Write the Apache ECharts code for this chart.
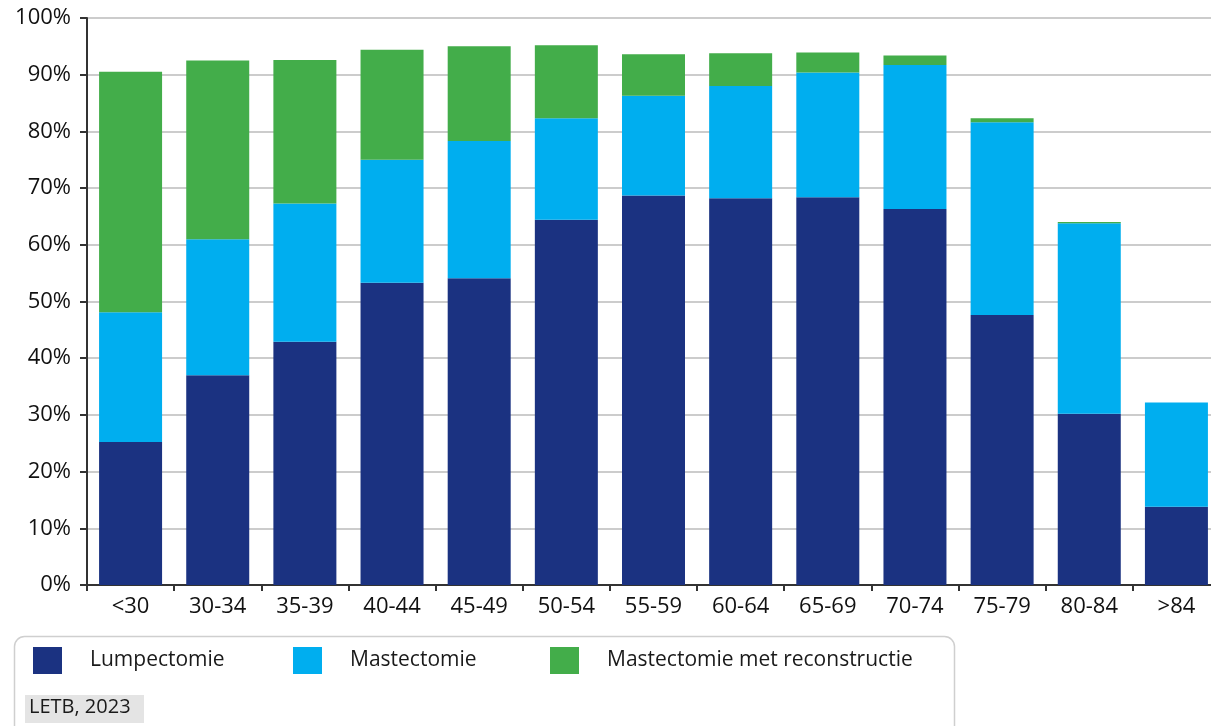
<!DOCTYPE html>
<html>
<head>
<meta charset="utf-8">
<script src="https://cdn.jsdelivr.net/npm/echarts@6/dist/echarts.min.js"></script>
<style>
  html, body { margin: 0; padding: 0; background: #ffffff; overflow: hidden; }
  /* the plot area runs a few pixels past the right edge of the window */
  #chart { width: 1221px; height: 726px; }
</style>
</head>
<body>
<div id="chart"></div>
<script>
// Leeftijdsgroepen
const categories = ['<30', '30-34', '35-39', '40-44', '45-49', '50-54', '55-59', '60-64', '65-69', '70-74', '75-79', '80-84', '>84'];

// Percentage per type operatie (gestapeld)
const lumpectomie = [25.2, 37.0, 42.9, 53.3, 54.1, 64.4, 68.7, 68.2, 68.4, 66.3, 47.6, 30.2, 13.8];
const mastectomie = [22.9, 24.0, 24.4, 21.7, 24.2, 17.9, 17.6, 19.8, 22.0, 25.4, 34.0, 33.6, 18.4];
const mastectomieReconstructie = [42.4, 31.5, 25.3, 19.4, 16.7, 12.9, 7.3, 5.8, 3.5, 1.7, 0.7, 0.2, 0];

const seriesNames = ['Lumpectomie', 'Mastectomie', 'Mastectomie met reconstructie'];
const colors = ['#1b3281', '#00aeef', '#43ad4a'];
const sourceText = 'LETB, 2023';

const FONT = '"Open Sans", "Noto Sans", sans-serif';

const chart = echarts.init(document.getElementById('chart'), null, { renderer: 'canvas' });

function barSeries(name, data, color) {
  return {
    name: name,
    type: 'bar',
    stack: 'totaal',
    data: data,
    barWidth: 63,
    itemStyle: { color: color },
    emphasis: { disabled: true }
  };
}

function legendAt(name, left) {
  return {
    data: [name],
    left: left,
    top: 647,
    padding: 0,
    itemWidth: 29,
    itemHeight: 27,
    icon: 'rect',
    selectedMode: false,
    textStyle: {
      fontFamily: FONT,
      fontSize: 21,
      color: '#1a1a1a',
      padding: [0, 0, 0, 23]
    }
  };
}

chart.setOption({
  animation: false,
  backgroundColor: '#ffffff',
  grid: { left: 87, right: 1, top: 18, bottom: 141, containLabel: false },
  legend: [
    legendAt(seriesNames[0], 33),
    legendAt(seriesNames[1], 293),
    legendAt(seriesNames[2], 550)
  ],
  xAxis: {
    type: 'category',
    data: categories,
    axisLine: { lineStyle: { color: '#333333', width: 2 } },
    axisTick: { show: true, length: 6, lineStyle: { color: '#333333', width: 2 } },
    axisLabel: { fontFamily: FONT, fontSize: 22, color: '#111111', margin: 11 }
  },
  yAxis: {
    type: 'value',
    min: 0,
    max: 100,
    interval: 10,
    axisLine: { show: true, lineStyle: { color: '#333333', width: 2 } },
    axisTick: { show: true, length: 7, lineStyle: { color: '#333333', width: 2 } },
    axisLabel: { fontFamily: FONT, fontSize: 22, color: '#111111', margin: 16, formatter: '{value}%' },
    splitLine: { lineStyle: { color: '#cccccc', width: 2 } }
  },
  graphic: [
    {
      type: 'rect',
      left: 12, top: 634,
      shape: { width: 940, height: 110, r: 10 },
      style: { fill: 'none', stroke: '#cfcfcf', lineWidth: 1.5 },
      silent: true
    },
    {
      type: 'rect',
      left: 25, top: 695,
      shape: { width: 119, height: 28 },
      style: { fill: '#e4e4e4' },
      silent: true
    },
    {
      type: 'text',
      left: 29, top: 697,
      style: { text: sourceText, font: '20px ' + FONT, fill: '#1a1a1a' },
      silent: true
    }
  ],
  series: [
    barSeries(seriesNames[0], lumpectomie, colors[0]),
    barSeries(seriesNames[1], mastectomie, colors[1]),
    barSeries(seriesNames[2], mastectomieReconstructie, colors[2])
  ]
});
</script>
</body>
</html>
